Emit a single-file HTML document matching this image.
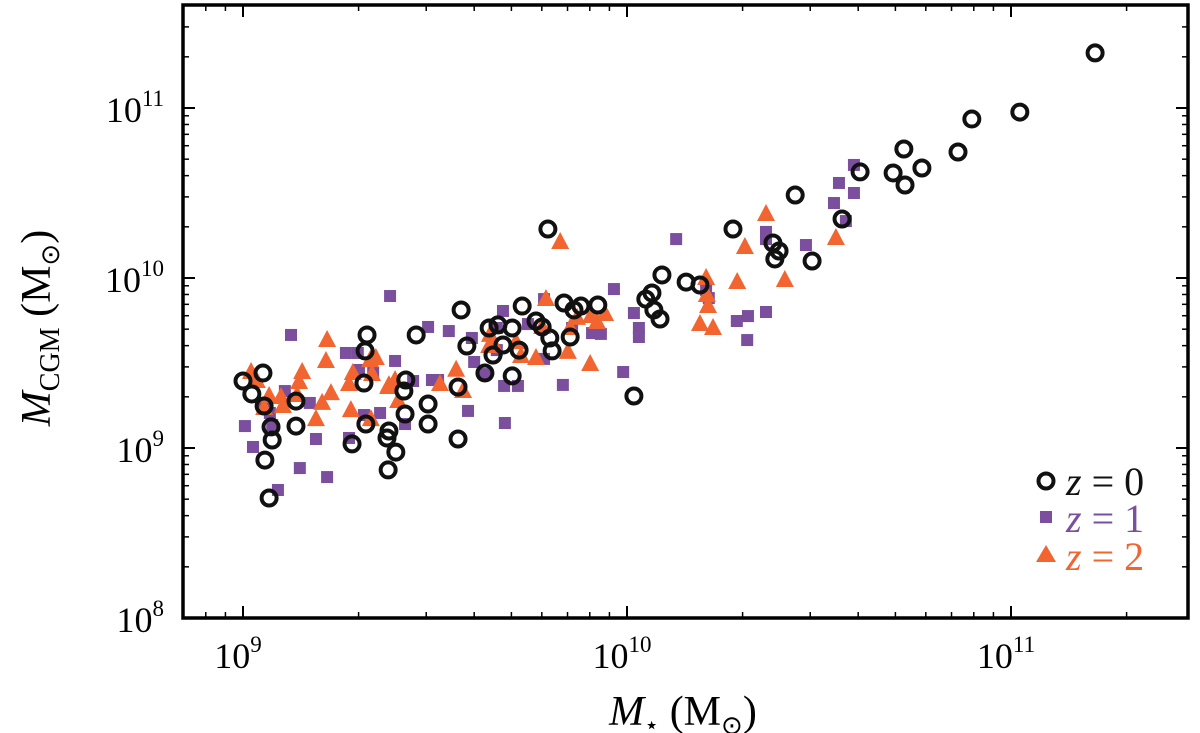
<!DOCTYPE html>
<html><head><meta charset="utf-8"><style>
body{margin:0;background:#fff}
svg{display:block;font-family:"Liberation Serif",serif}
</style></head><body>
<svg id="chart" width="1200" height="733" viewBox="0 0 1200 733">
<rect x="183" y="5" width="1005" height="613" fill="none" stroke="#000" stroke-width="3.5"/>
<g id="ticks"></g>
<g id="marks"></g>
<text x="683" y="725" font-size="42" text-anchor="middle"><tspan font-style="italic">M</tspan><tspan font-size="24" dy="8">⋆</tspan><tspan dy="-8"> (M</tspan><tspan font-size="26" dy="9">⊙</tspan><tspan dy="-9">)</tspan></text>
<text transform="translate(50,328) rotate(-90)" font-size="42" text-anchor="middle"><tspan font-style="italic">M</tspan><tspan font-size="28" dy="9">CGM</tspan><tspan dy="-9"> (M</tspan><tspan font-size="26" dy="9">⊙</tspan><tspan dy="-9">)</tspan></text>
<g>
<circle cx="1046" cy="481" r="7.5" fill="none" stroke="#111" stroke-width="4"/>
<text x="1066" y="495" font-size="40" fill="#111"><tspan font-style="italic">z</tspan> = 0</text>
<rect x="1040" y="511" width="12" height="12" fill="#7b4f9d"/>
<text x="1066" y="532" font-size="40" fill="#7b4f9d"><tspan font-style="italic">z</tspan> = 1</text>
<polygon points="1046,545 1056,562 1036,562" fill="#f26430"/>
<text x="1066" y="570" font-size="40" fill="#f26430"><tspan font-style="italic">z</tspan> = 2</text>
</g>
</svg>
<script>
// data: log10 masses
const z0x=[9.0,9.023,9.052,9.055,9.057,9.076,9.068,9.073,9.138,9.138,9.284,9.320,9.323,9.318,9.315,9.378,9.375,9.380,9.398,9.422,9.419,9.424,9.451,9.482,9.482,9.560,9.560,9.568,9.583,9.630,9.641,9.651,9.664,9.677,9.701,9.719,9.701,9.727,9.763,9.779,9.794,9.799,9.805,9.836,9.852,9.862,9.880,9.924,10.018,10.049,10.065,10.070,10.086,10.091,10.154,10.190,10.276,10.380,10.385,10.396,10.438,10.482,10.560,10.607,10.693,10.721,10.724,10.768,10.862,10.898,11.023,11.219];
const z0y=[9.394,9.318,9.441,9.247,8.929,9.047,8.706,9.124,9.129,9.276,9.024,9.141,9.665,9.571,9.382,8.871,9.059,9.100,8.976,9.200,9.335,9.400,9.665,9.259,9.141,9.053,9.359,9.812,9.600,9.441,9.706,9.547,9.724,9.606,9.424,9.576,9.706,9.835,9.747,9.712,10.288,9.647,9.571,9.853,9.653,9.812,9.835,9.841,9.306,9.876,9.912,9.812,9.759,10.018,9.976,9.959,10.288,10.206,10.112,10.159,10.488,10.100,10.347,10.624,10.618,10.759,10.547,10.647,10.741,10.935,10.976,11.324];
const z1x=[9.005,9.026,9.055,9.070,9.076,9.091,9.109,9.125,9.148,9.174,9.190,9.219,9.268,9.276,9.299,9.302,9.315,9.339,9.357,9.383,9.396,9.422,9.443,9.482,9.492,9.508,9.536,9.586,9.596,9.602,9.630,9.661,9.661,9.677,9.680,9.682,9.716,9.742,9.784,9.784,9.833,9.857,9.909,9.966,9.990,10.031,10.031,10.128,10.206,10.286,10.313,10.315,10.362,10.466,10.539,10.552,10.570,10.591,10.591,10.362,10.213,10.362,10.018,9.932];
const z1y=[9.129,9.006,9.265,9.206,9.135,8.753,9.335,9.665,8.882,9.265,9.053,8.829,9.559,9.059,9.559,9.459,9.194,9.441,9.206,9.894,9.512,9.141,9.394,9.712,9.400,9.400,9.688,9.218,9.647,9.506,9.435,9.706,9.576,9.806,9.365,9.147,9.365,9.729,9.876,9.524,9.371,9.706,9.676,9.935,9.447,9.706,9.653,10.229,9.929,9.747,9.635,9.776,10.271,10.194,10.441,10.559,10.335,10.665,10.500,10.229,9.882,9.800,9.794,9.671];
const z2x=[9.021,9.036,9.055,9.068,9.099,9.104,9.141,9.146,9.154,9.190,9.206,9.216,9.219,9.229,9.276,9.281,9.286,9.331,9.333,9.336,9.346,9.378,9.380,9.396,9.404,9.513,9.555,9.573,9.641,9.643,9.651,9.711,9.724,9.763,9.779,9.789,9.826,9.846,9.852,9.870,9.904,9.906,9.922,9.943,10.190,10.206,10.208,10.211,10.224,10.287,10.307,10.362,10.411,10.544];
const z2y=[9.453,9.400,9.241,9.312,9.306,9.253,9.318,9.394,9.453,9.176,9.271,9.518,9.641,9.329,9.382,9.229,9.447,9.523,9.176,9.441,9.535,9.365,9.376,9.406,9.282,9.382,9.466,9.341,9.606,9.671,9.624,9.629,9.547,9.535,9.718,9.882,10.218,9.571,9.712,9.771,9.500,9.782,9.747,9.794,9.735,10.006,9.906,9.841,9.712,9.982,10.188,10.382,9.994,10.241];
const xTickLabels=["9","10","11"];
const yTickLabels=["8","9","10","11"];
const X=v=>243+(v-9)*384, Y=v=>108-(v-11)*170;
const NS="http://www.w3.org/2000/svg";
const marks=document.getElementById('marks'), ticks=document.getElementById('ticks');
function mk(tag,attrs,parent){const e=document.createElementNS(NS,tag);for(const k in attrs)e.setAttribute(k,attrs[k]);parent.appendChild(e);return e;}
for(let d=8;d<=11;d++){for(let m=1;m<10;m++){const v=Math.log10(m)+d;const px=X(v);if(px>183&&px<1188){const L=m==1?12:6;
const t1=mk('line',{x1:px,x2:px,y1:618,y2:618-L,stroke:'#000','stroke-width':m==1?2:1.5},ticks);


const t2=mk('line',{x1:px,x2:px,y1:5,y2:5+L,stroke:'#000','stroke-width':m==1?2:1.5},ticks);

}
const py=Y(v);if(py>5&&py<618){const L=m==1?12:6;
const t3=mk('line',{x1:183,x2:183+L,y1:py,y2:py,stroke:'#000','stroke-width':m==1?2:1.5},ticks);


const t4=mk('line',{x1:1188,x2:1188-L,y1:py,y2:py,stroke:'#000','stroke-width':m==1?2:1.5},ticks);

}}}
xTickLabels.forEach(s=>{const t=mk('text',{x:X(+s)-5,y:668,'font-size':36,'text-anchor':'middle'},ticks);t.innerHTML='10<tspan font-size="23" dy="-16">'+s+'</tspan>';

});
yTickLabels.forEach(s=>{const t=mk('text',{x:164,y:Y(+s)+14,'font-size':36,'text-anchor':'end'},ticks);t.innerHTML='10<tspan font-size="23" dy="-16">'+s+'</tspan>';

});
z1x.forEach((v,i)=>{const r=mk('rect',{x:X(v)-6,y:Y(z1y[i])-6,width:12,height:12,fill:'#7b4f9d'},marks);

});
z2x.forEach((v,i)=>{const cx=X(v),cy=Y(z2y[i]);const p=mk('polygon',{points:`${cx},${cy-9} ${cx+9},${cy+8} ${cx-9},${cy+8}`,fill:'#f26430'},marks);

});
z0x.forEach((v,i)=>{const c=mk('circle',{cx:X(v),cy:Y(z0y[i]),r:7.5,fill:'none',stroke:'#111','stroke-width':4},marks);

});
</script>
</body></html>
